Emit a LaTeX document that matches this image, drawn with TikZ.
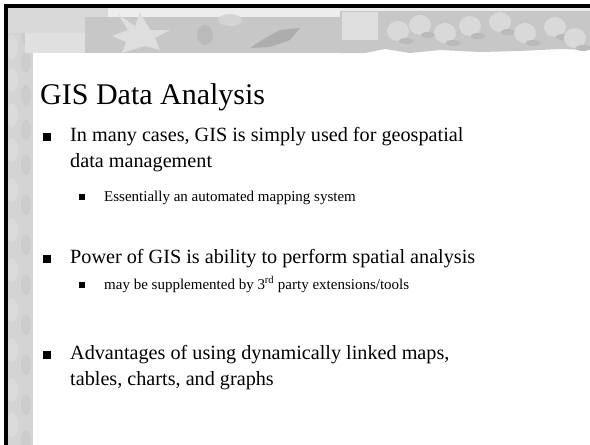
\documentclass[tikz,border=0pt]{standalone}
\usepackage{fontspec}
\setmainfont{Liberation Serif}
\begin{document}
\begin{tikzpicture}[x=1pt,y=-1pt,
  title/.style={anchor=base west,inner sep=0pt,font=\fontsize{30}{30}\selectfont},
  mainitem/.style={anchor=base west,inner sep=0pt,font=\fontsize{20.2}{20}\selectfont},
  subitem/.style={anchor=base west,inner sep=0pt,font=\fontsize{15}{15}\selectfont},
  mainbullet/.style={fill=black,minimum size=7.5pt,inner sep=0pt,draw=none},
  subbullet/.style={fill=black,minimum size=6pt,inner sep=0pt,draw=none}]
\useasboundingbox (0,0) rectangle (590,445);
\fill[white] (0,0) rectangle (590,445);
% left texture strip
\fill[black!17] (8,8) rectangle (33,445);
\foreach \yy in {20,47,80,115,150,190,230,270,310,350,390,425}{
  \fill[black!14] (12,\yy) ellipse (6 and 12);
  \fill[black!20] (26,\yy+15) ellipse (5 and 10);
}
% top banner
\fill[black!15] (8,8) rectangle (110,33);
\fill[black!12] (25,33) rectangle (90,53);
\fill[black!7] (108,8) rectangle (340,17);
\fill[black!22] (85,17) rectangle (340,53);
\fill[black!13] (118,14) -- (128,30) -- (112,36) -- (126,42) -- (122,53) -- (145,46) -- (160,50) -- (155,38) -- (170,30) -- (150,30) -- (140,12) -- (135,26) -- cycle;
\fill[black!32] (250,48) -- (262,40) -- (280,30) -- (300,28) -- (290,40) -- (270,47) -- cycle;
\fill[black!27] (205,35) ellipse (8 and 10);
\fill[black!17] (230,20) ellipse (12 and 6);
% stones
\fill[black!22] (340,8) -- (590,8) -- (590,50) -- (560,49) -- (520,51) -- (480,52) -- (440,50) -- (410,53) -- (385,49) -- (365,53) -- (340,53) -- cycle;
\fill[black!8] (340,8) rectangle (590,11);
\fill[black!13] (342,12) rectangle (378,40);
\foreach \xx/\yy in {420/25,445/33,470/26,500/22,525/33,555/27,398/31,575/38}{
  \fill[black!15] (\xx,\yy) ellipse (11 and 10);
  \fill[black!27] (\xx+8,\yy+10) ellipse (7 and 3);
}
% frame
\fill[black] (4,4) rectangle (590,7.5);
\fill[black] (4,4) rectangle (7.5,445);
% text
\node[title] (t) at (40,104) {GIS Data Analysis};
\node[mainbullet] (b1) at (47,137) {};
\node[mainitem] (l1) at (70,141) {In many cases, GIS is simply used for geospatial};
\node[mainitem] (l1b) at (70,167) {data management};
\node[subbullet] (s1) at (82,197) {};
\node[subitem] (l2) at (104,201) {Essentially an automated mapping system};
\node[mainbullet] (b2) at (47,259) {};
\node[mainitem] (l3) at (70,263) {Power of GIS is ability to perform spatial analysis};
\node[subbullet] (s2) at (82,285) {};
\node[subitem] (l4) at (104,289) {may be supplemented by 3\textsuperscript{rd} party extensions/tools};
\node[mainbullet] (b3) at (47,355) {};
\node[mainitem] (l5) at (70,359) {Advantages of using dynamically linked maps,};
\node[mainitem] (l5b) at (70,385) {tables, charts, and graphs};
\end{tikzpicture}
\end{document}
